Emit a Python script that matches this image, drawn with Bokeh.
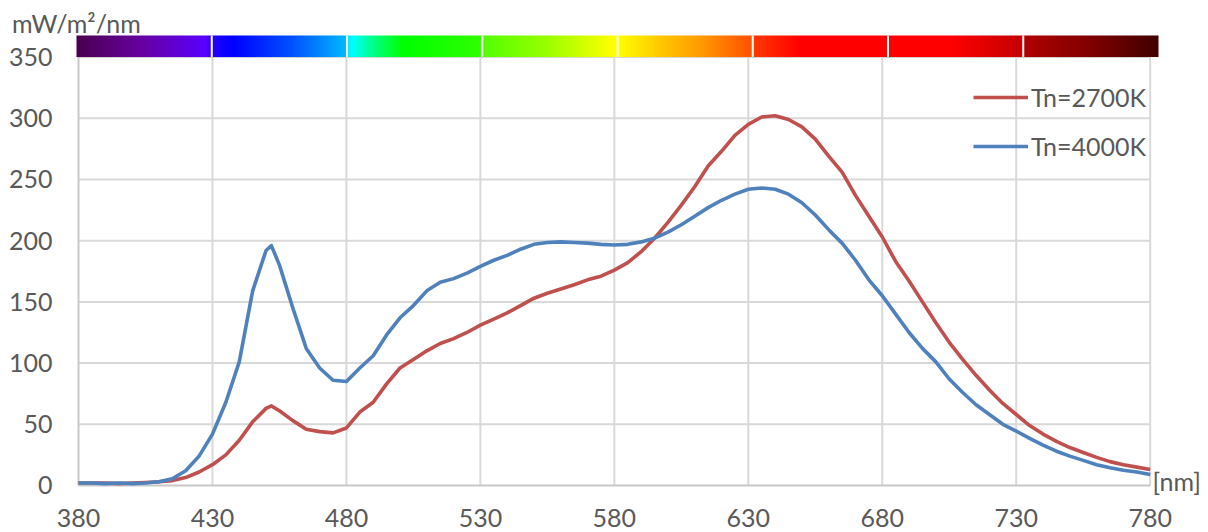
import numpy as np
from bokeh.plotting import figure
from bokeh.models import (Range1d, LabelSet, ColumnDataSource, Legend, LegendItem)
from bokeh.core.properties import value
from bokeh.embed import file_html
from bokeh.resources import INLINE

# ---------------- data ----------------
wavelength = [380, 385, 390, 395, 400, 405, 410, 415, 420, 425, 430, 435, 440, 445, 450, 452,
              455, 460, 465, 470, 475, 480, 485, 490, 495, 500,
              505, 510, 515, 520, 525, 530, 535, 540, 545, 550,
              555, 560, 565, 570, 575, 580, 585, 590, 595, 600,
              605, 610, 615, 620, 625, 630, 635, 640, 645, 650,
              655, 660, 665, 670, 675, 680, 685, 690, 695, 700,
              705, 710, 715, 720, 725, 730, 735, 740, 745, 750,
              755, 760, 765, 770, 775, 780]

tn2700 = [2, 2, 2, 1.5, 2, 2.5, 3, 4, 6.5, 11, 17, 25, 37, 52, 63, 65,
          61, 53, 46, 44, 43, 47, 60, 68, 83, 96,
          103, 110, 116, 120, 125, 131, 136, 141, 147, 153,
          157, 160.5, 164, 168, 171, 176, 182, 191, 202, 215,
          229, 244, 261, 273, 286, 295, 301, 302, 299, 293,
          283, 269, 256, 237, 220, 203, 183, 167, 150, 133,
          117, 103, 90, 78, 67, 58, 49, 42, 36, 31,
          27, 23, 19.5, 17, 15, 13]

tn4000 = [2, 2, 1.5, 2, 1.5, 2, 3, 5.5, 12, 24, 42, 68, 101, 159, 192, 196,
          180, 145, 112, 96, 86, 85, 96, 106, 123, 137,
          147, 159, 166, 169, 173.5, 179, 184, 188, 193, 197,
          198.5, 199, 198.5, 198, 197, 196.5, 197, 199, 202, 207,
          213, 220, 227, 233, 238, 242, 243, 242, 238, 231,
          221, 209, 198, 184, 168, 155, 140, 125, 112, 101,
          87, 76, 66, 58, 50, 44.5, 38.5, 33, 28, 24,
          20.5, 17, 14.5, 12.5, 11, 9]

series_names = ["Tn=2700K", "Tn=4000K"]
x_ticks = [380, 430, 480, 530, 580, 630, 680, 730, 780]
y_ticks = [0, 50, 100, 150, 200, 250, 300, 350]
x_tick_labels = [str(t) for t in x_ticks]
y_tick_labels = [str(t) for t in y_ticks]
y_unit_label = "mW/m²/nm"
x_unit_label = "[nm]"

# spectrum colour bar stops (wavelength position, colour)
bar_stop_nm = [379.25, 403.1, 427.4, 429.6, 437.5, 459.1, 479.3, 480.0, 482.3, 489.0, 501.0,
               529.7, 530.4, 554.3, 579.3, 581.2, 597.2, 612.2, 631.2, 632.0, 649.5, 705.5,
               732.4, 733.1, 757.8, 783.1]
bar_stop_color = ["#4a0050", "#6800a0", "#5a00ff", "#2400ff", "#0000ff", "#0050ff", "#00b8ff",
                  "#00e8ff", "#00ffff", "#00ff90", "#00ff00", "#30ff00", "#50ff00", "#98ff00",
                  "#ffff00", "#ffff00", "#ffc800", "#ff9a00", "#ff5000", "#ff3800", "#ff0000",
                  "#ff0000", "#c40000", "#b00000", "#800000", "#400000"]

# ---------------- styling ----------------
RED = "#C0504D"
BLUE = "#4F81BD"
GRID = "#d9d9d9"
AXIS = "#c8c8c8"
TEXT = "#595959"
FONT = "Lato"
FSIZE = "25px"

BAR_X0, BAR_X1 = 379.25, 783.1
BAR_TOP = 367.6

p = figure(width=1208, height=532, output_backend="svg", toolbar_location=None,
           x_range=Range1d(350.884, 801.766), y_range=Range1d(-38.394, 396.19),
           x_axis_location=None, y_axis_location=None,
           min_border=0, min_border_left=0, min_border_right=0,
           min_border_top=0, min_border_bottom=0, title=None)
p.outline_line_color = None
p.xgrid.visible = False
p.ygrid.visible = False
p.background_fill_color = "white"
p.border_fill_color = "white"

# gridlines
hy = [t for t in y_ticks if t > 0]
p.segment(x0=[x_ticks[0]] * len(hy), y0=hy, x1=[x_ticks[-1]] * len(hy), y1=hy,
          line_color=GRID, line_width=2)
vx = x_ticks[1:]
p.segment(x0=vx, y0=[0] * len(vx), x1=vx, y1=[y_ticks[-1]] * len(vx),
          line_color=GRID, line_width=2)
# axis lines
p.segment(x0=[x_ticks[0], x_ticks[0]], y0=[0, 0], x1=[x_ticks[-1], x_ticks[0]],
          y1=[0, y_ticks[-1]], line_color=AXIS, line_width=2)

# spectrum bar
ncol = 1082
cols = np.linspace(BAR_X0, BAR_X1, ncol)
rgb = np.array([[int(c[1:3], 16), int(c[3:5], 16), int(c[5:7], 16)] for c in bar_stop_color], dtype=float)
img = np.zeros((1, ncol), dtype=np.uint32)
view = img.view(dtype=np.uint8).reshape((1, ncol, 4))
for k in range(3):
    view[0, :, k] = np.interp(cols, bar_stop_nm, rgb[:, k]).astype(np.uint8)
view[0, :, 3] = 255
p.image_rgba(image=[img], x=BAR_X0, y=y_ticks[-1], dw=BAR_X1 - BAR_X0, dh=BAR_TOP - y_ticks[-1])
seg_w = (BAR_X1 - BAR_X0) / 8
seps = [BAR_X0 + k * seg_w for k in range(1, 8)]
p.segment(x0=seps, y0=[y_ticks[-1]] * 7, x1=seps, y1=[BAR_TOP] * 7, line_color="white", line_width=2)

# series
src = ColumnDataSource(dict(x=wavelength, a=tn2700, b=tn4000))
r1 = p.line("x", "a", source=src, line_color=RED, line_width=3.6, line_join="round")
r2 = p.line("x", "b", source=src, line_color=BLUE, line_width=3.6, line_join="round")

legend = Legend(items=[LegendItem(label=series_names[0], renderers=[r1]),
                       LegendItem(label=series_names[1], renderers=[r2])],
                location=(973, 371), padding=0, margin=0, border_line_color=None,
                background_fill_alpha=0, glyph_width=55, glyph_height=20, label_height=20,
                spacing=19, label_standoff=3, label_text_font=FONT,
                label_text_font_size=FSIZE, label_text_color=TEXT)
p.add_layout(legend)


def text_layer(xs, ys, texts, align, baseline):
    s = ColumnDataSource(dict(x=xs, y=ys, t=texts))
    p.add_layout(LabelSet(x="x", y="y", text="t", source=s, text_align=align,
                          text_baseline=baseline, text_font=value(FONT),
                          text_font_size=value(FSIZE), text_color=TEXT))


# tick labels
text_layer(x_ticks, [-34.3] * len(x_ticks), x_tick_labels, "center", "alphabetic")
text_layer([370.29] * len(y_ticks), y_ticks, y_tick_labels, "right", "middle")
# unit labels
text_layer([355.2], [369.3], [y_unit_label], "left", "alphabetic")
text_layer([780.9], [-4.1], [x_unit_label], "left", "alphabetic")

open("out.html", "w").write(file_html(p, INLINE))
